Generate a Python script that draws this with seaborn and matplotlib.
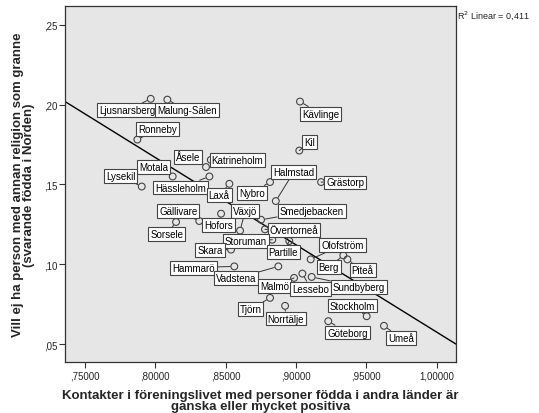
import numpy as np
import pandas as pd
import matplotlib
matplotlib.use("Agg")
import matplotlib.pyplot as plt
import seaborn as sns

# kommuner and values
kommuner = ["Ljusnarsberg", "Malung-Sälen", "Kävlinge", "Ronneby", "Kil", "Åsele",
            "Katrineholm", "Motala", "Halmstad", "Lysekil", "Hässleholm", "Grästorp",
            "Laxå", "Nybro", "Smedjebacken", "Gällivare", "Växjö", "Övertorneå",
            "Hofors", "Sorsele", "Storuman", "Skara", "Partille", "Olofström",
            "Hammarö", "Berg", "Piteå", "Vadstena", "Malmö", "Lessebo", "Sundbyberg",
            "Stockholm", "Tjörn", "Norrtälje", "Göteborg", "Umeå"]
kontakter = [0.7967, 0.8085, 0.9028, 0.7872, 0.9023, 0.8360,
             0.8394, 0.8123, 0.8856, 0.7903, 0.8384, 0.9178,
             0.8526, 0.8815, 0.8751, 0.8312, 0.8602, 0.8779,
             0.8467, 0.8147, 0.8831, 0.8538, 0.8952, 0.9104,
             0.8561, 0.9336, 0.9365, 0.8874, 0.8986, 0.9045, 0.9111,
             0.9502, 0.8815, 0.8922, 0.9229, 0.9625]
vill_ej = [0.2036, 0.2031, 0.2019, 0.1781, 0.1712, 0.1609,
           0.1654, 0.1550, 0.1396, 0.1487, 0.1550, 0.1515,
           0.1504, 0.1515, 0.1279, 0.1271, 0.1211, 0.1219,
           0.1317, 0.1265, 0.1154, 0.1092, 0.1146, 0.1031,
           0.0987, 0.1056, 0.1031, 0.0987, 0.0915, 0.0942, 0.0921,
           0.0675, 0.0790, 0.0740, 0.0644, 0.0615]

x_ticks = [0.75, 0.80, 0.85, 0.90, 0.95, 1.00]
x_ticklabels = [",75000", ",80000", ",85000", ",90000", ",95000", "1,00000"]
y_ticks = [0.05, 0.10, 0.15, 0.20, 0.25]
y_ticklabels = [",05", ",10", ",15", ",20", ",25"]

# label box centres in pixel coords of the original (layout only)
label_px = [(127, 111.3), (187, 111.3), (320.5, 115), (157.5, 130.5), (309.7, 143),
            (188.3, 157.8), (237.5, 161.5), (153.8, 167.8), (293.7, 173.3),
            (120.5, 177.5), (180.5, 188.8), (345, 183.7), (219.2, 196.3), (252, 194),
            (311.5, 212.2), (178.3, 212.3), (245, 212.7), (294.2, 231), (218.3, 226.7),
            (166.7, 235.7), (245.5, 242.5), (210, 251), (283.3, 253.3), (342.5, 246.2),
            (193.3, 269), (328.7, 268.7), (362.7, 271.2), (236.3, 279.7),
            (274.8, 287.3), (310.8, 290), (358.8, 288.3), (352.5, 307),
            (250.5, 310.8), (285.7, 320), (347.5, 334), (400.8, 339.5)]

df = pd.DataFrame({"kommun": kommuner, "kontakter": kontakter, "vill_ej": vill_ej})

sns.set_style("ticks")
plt.rcParams["font.family"] = ["Liberation Sans", "DejaVu Sans"]

fig = plt.figure(figsize=(5.39, 4.14), dpi=100)
ax = fig.add_axes([0.1215, 0.123, 0.7245, 0.860])
ax.set_facecolor("#e6e6e6")
ax.set_xlim(0.7361, 1.0137)
ax.set_ylim(0.0388, 0.2617)

sns.regplot(data=df, x="kontakter", y="vill_ej", scatter=False, ci=None,
            truncate=False, color="black", line_kws=dict(lw=1.0), ax=ax)
sns.scatterplot(data=df, x="kontakter", y="vill_ej", s=24, facecolor="none",
                edgecolor="#444444", linewidth=0.8, ax=ax, zorder=3)

# pixel -> data for label placement
def px_to_data(px, py):
    return 0.75 + (px - 85) / 1406.8, 0.25 - (py - 25.7) * 0.000625

for name, xv, yv, (lx, ly) in zip(kommuner, kontakter, vill_ej, label_px):
    tx, ty = px_to_data(lx, ly)
    ax.annotate(name, xy=(xv, yv), xytext=(tx, ty), ha="center", va="center",
                fontsize=7, color="black", zorder=4,
                bbox=dict(boxstyle="square,pad=0.2", fc="white", ec="#444444", lw=0.8),
                arrowprops=dict(arrowstyle="-", color="#333333", lw=0.7,
                                shrinkA=0, shrinkB=3.0))

ax.set_xticks(x_ticks)
ax.set_xticklabels(x_ticklabels, fontsize=7)
ax.set_yticks(y_ticks)
ax.set_yticklabels(y_ticklabels, fontsize=7)
ax.tick_params(direction="out", length=4, width=0.8, color="#333333", pad=2)
for sp in ax.spines.values():
    sp.set_visible(True)
    sp.set_color("#333333")
    sp.set_linewidth(0.9)

ax.set_xlabel("Kontakter i föreningslivet med personer födda i andra länder är\n"
              "ganska eller mycket positiva", fontsize=9.5, fontweight="bold",
              labelpad=6, linespacing=0.95)
ax.set_ylabel("Vill ej ha person med annan religion som granne\n"
              "(svarande födda i Norden)", fontsize=9.5, fontweight="bold",
              labelpad=6, linespacing=0.95)

fig.text(0.848, 0.963, "R$^2$ Linear = 0,411", fontsize=6.5, ha="left", va="center")

fig.savefig("out.png", dpi=100, facecolor="white")
